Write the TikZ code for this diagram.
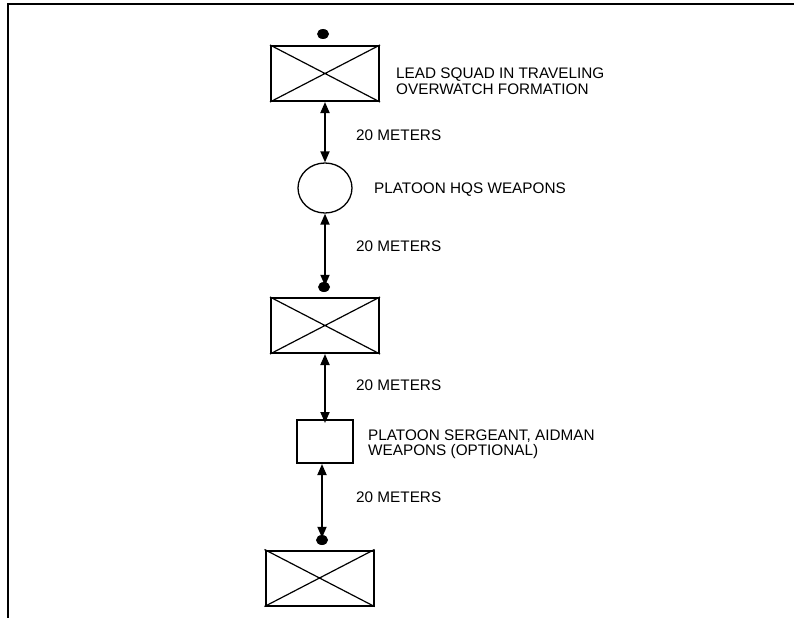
\documentclass[tikz,border=0pt]{standalone}
\usepackage{fontspec}
\setmainfont{Liberation Sans}
\usetikzlibrary{arrows.meta,shapes.geometric}
\begin{document}
\begin{tikzpicture}[x=1pt,y=-1pt,
  unitbox/.style={draw,line width=2pt,minimum width=108pt,minimum height=55pt,inner sep=0pt},
  plainbox/.style={draw,line width=2pt,minimum width=56pt,minimum height=43pt,inner sep=0pt},
  hqcircle/.style={draw,line width=1.3pt,ellipse,minimum width=54pt,minimum height=50pt,inner sep=0pt},
  leaderdot/.style={fill,ellipse,minimum width=12pt,minimum height=10pt,inner sep=0pt},
  cross/.style={line width=1.2pt},
  dist/.style={line width=1.8pt,{Triangle[length=11pt,width=9pt]}-{Triangle[length=11pt,width=9pt]}},
  lbl/.style={anchor=west,font=\fontsize{15.3}{15.5}\selectfont,align=left,inner sep=0pt}
]
\useasboundingbox (0,0) rectangle (794,618);
% frame
\draw[line width=2pt] (7,4) -- (794,4);
\draw[line width=1.4pt] (8,4) -- (8,618);

% elements
\node[leaderdot] (d1) at (323,34) {};
\node[unitbox] (b1) at (325,73.5) {};
\draw[cross] (b1.north west) -- (b1.south east) (b1.north east) -- (b1.south west);
\node[hqcircle] (c1) at (325,188) {};
\node[leaderdot] (d2) at (324,287) {};
\node[unitbox] (b2) at (325,325.5) {};
\draw[cross] (b2.north west) -- (b2.south east) (b2.north east) -- (b2.south west);
\node[plainbox] (s1) at (325,441.5) {};
\node[leaderdot] (d3) at (322,540) {};
\node[unitbox] (b3) at (319.5,578) {};
\draw[cross] (b3.north west) -- (b3.south east) (b3.north east) -- (b3.south west);

% distance arrows
\draw[dist] (b1.south) -- (c1.north);
\draw[dist] (c1.south) -- ([yshift=-4pt]d2.north -| c1.south);
\draw[dist] (b2.south) -- ([yshift=-4pt]s1.north);
\draw[dist] (s1.south -| d3) -- ([yshift=-3pt]d3.north);

% labels
\node[lbl] (t1) at (396,81) {LEAD SQUAD IN TRAVELING\\OVERWATCH FORMATION};
\node[lbl] (m1) at (356,135) {20 METERS};
\node[lbl] (t2) at (374,190) {PLATOON HQS WEAPONS};
\node[lbl] (m2) at (356,246) {20 METERS};
\node[lbl] (m3) at (356,385) {20 METERS};
\node[lbl] (t3) at (368,444) {PLATOON SERGEANT, AIDMAN\\WEAPONS (OPTIONAL)};
\node[lbl] (m4) at (356,497) {20 METERS};
\end{tikzpicture}
\end{document}
